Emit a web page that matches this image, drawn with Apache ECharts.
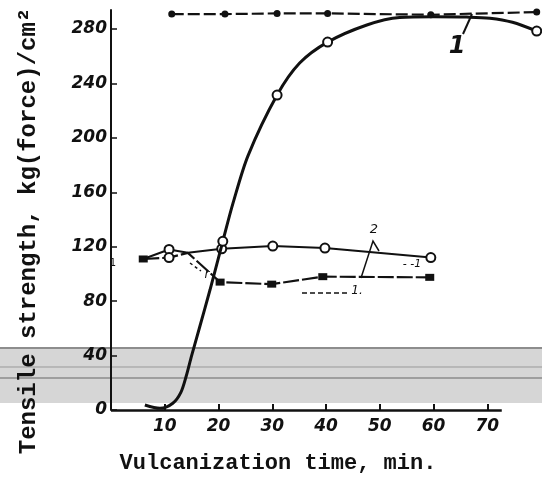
<!DOCTYPE html>
<html><head><meta charset="utf-8">
<script src="https://cdn.jsdelivr.net/npm/echarts@6/dist/echarts.min.js"></script>
<style>html,body{margin:0;padding:0;background:#fff}#c{width:542px;height:481px}</style>
</head><body><div id="c"></div>
<script>
// ---- data ----
// Curve 1: S-shaped rise (open circles)
const curve1Time = [6.3, 9.1, 11.5, 13.0, 14.0, 15.0, 16.5, 18.4, 20.8, 22.7, 25.5, 30.9, 35.1, 40.3, 47.6, 53.7, 60.0, 66.2, 70.5, 74.7, 79.2];
const curve1Strength = [3.7, 1.2, 5, 13, 25, 40, 61, 88, 124, 152, 187, 231.5, 255, 270.4, 283, 288.5, 289, 288.8, 288, 285, 278.5];
const curve1Measured = [20.8, 30.9, 40.3, 79.2];

// Curve 2: open circles around 115-120
const curve2Time = [6.0, 10.8, 14.3, 20.6, 30.1, 39.8, 59.5];
const curve2Strength = [111, 118, 115.5, 118.5, 120.5, 119, 112];

// Curve 3: filled squares around 95
const curve3Time = [6.0, 10.8, 14.3, 20.3, 29.9, 39.4, 59.3];
const curve3Strength = [111, 112, 115.5, 94, 92.5, 98, 97.5];

// Top curve: filled circles near 290 (dashed)
const topTime = [11.3, 21.2, 30.9, 40.3, 59.5, 79.2];
const topStrength = [291, 291, 291.5, 291.5, 290.5, 292.5];

const xTicks = [10, 20, 30, 40, 50, 60, 70];
const yTicks = [0, 40, 80, 120, 160, 200, 240, 280];
const xAxisEnd = 72.7;

// ---- chart ----
const pairs = (xs, ys) => xs.map((x, i) => [x, ys[i]]);
const chart = echarts.init(document.getElementById('c'));
const tickFont = {fontFamily: 'DejaVu Sans', fontWeight: 'bold', fontStyle: 'italic', fontSize: 17, color: '#111'};
const ink = '#111';

chart.setOption({
  backgroundColor: '#fff',
  animation: false,
  grid: {left: 111, right: 1, top: 10, bottom: 71, outerBoundsMode: 'none', containLabel: false},
  xAxis: {
    type: 'value', min: 0, max: 80,
    axisLine: {show: false},
    axisTick: {show: true, inside: true, length: 6, lineStyle: {color: ink, width: 2}, customValues: xTicks},
    axisLabel: Object.assign({margin: 8, customValues: xTicks, formatter: v => String(v)}, tickFont),
    splitLine: {show: false}
  },
  yAxis: {
    type: 'value', min: 0, max: 294,
    axisLine: {show: true, lineStyle: {color: ink, width: 2}},
    axisTick: {show: true, inside: true, length: 6, lineStyle: {color: ink, width: 1.5}, customValues: yTicks},
    axisLabel: Object.assign({margin: 4, customValues: yTicks, formatter: v => String(v)}, tickFont),
    splitLine: {show: false}
  },
  series: [
    {
      type: 'line', name: 'top', z: 3,
      data: pairs(topTime, topStrength),
      symbol: 'circle', symbolSize: 7,
      itemStyle: {color: ink},
      lineStyle: {color: ink, width: 2.2, type: [12, 4]},
      markLine: {
        silent: true, symbol: ['none', 'none'], label: {show: false},
        lineStyle: {color: ink, width: 2.5, type: 'solid'},
        emphasis: {disabled: true},
        data: [[{coord: [0, 0]}, {coord: [xAxisEnd, 0]}]]
      }
    },
    {
      type: 'line', name: '2', z: 3,
      data: pairs(curve2Time, curve2Strength),
      symbol: (v, p) => (p.dataIndex === 0 || p.dataIndex === 2) ? 'none' : 'emptyCircle',
      symbolSize: 9,
      itemStyle: {color: ink, borderWidth: 1.5},
      lineStyle: {color: ink, width: 2}
    },
    {
      type: 'line', name: '3', z: 3,
      data: pairs(curve3Time, curve3Strength),
      symbol: (v, p) => p.dataIndex === 2 ? 'none' : (p.dataIndex === 1 ? 'emptyCircle' : 'rect'),
      symbolSize: (v, p) => p.dataIndex === 1 ? 9 : [9, 7],
      itemStyle: {color: ink, borderWidth: 1.5},
      lineStyle: {color: ink, width: 2.2, type: [16, 3]}
    },
    {
      type: 'line', name: '1', z: 4,
      data: pairs(curve1Time, curve1Strength),
      smooth: 0.3,
      symbol: (v) => curve1Measured.includes(v[0]) ? 'emptyCircle' : 'none',
      symbolSize: 9,
      itemStyle: {color: ink, borderWidth: 1.5},
      lineStyle: {color: ink, width: 3}
    }
  ],
  graphic: [
    // scanning halftone band
    {type: 'rect', z: -10, silent: true, shape: {x: 0, y: 347, width: 542, height: 56}, style: {fill: '#d6d6d6'}},
    {type: 'line', z: -9, silent: true, shape: {x1: 0, y1: 348, x2: 542, y2: 348}, style: {stroke: '#444', lineWidth: 1}},
    {type: 'line', z: -9, silent: true, shape: {x1: 0, y1: 367, x2: 542, y2: 367}, style: {stroke: '#999', lineWidth: 1}},
    {type: 'line', z: -9, silent: true, shape: {x1: 0, y1: 378, x2: 542, y2: 378}, style: {stroke: '#666', lineWidth: 1}},
    // axis titles
    {type: 'text', z: 50, x: 29, y: 231, rotation: Math.PI / 2,
      style: {text: 'Tensile strength, kg(force)/cm²', fontFamily: 'Liberation Mono', fontWeight: 'bold', fontSize: 24, fill: ink, align: 'center', verticalAlign: 'middle'}},
    {type: 'text', z: 50, x: 278, y: 463,
      style: {text: 'Vulcanization time, min.', fontFamily: 'Liberation Mono', fontWeight: 'bold', fontSize: 22, fill: ink, align: 'center', verticalAlign: 'middle'}},
    // curve labels and leaders
    {type: 'line', z: 50, shape: {x1: 472, y1: 14, x2: 463, y2: 34}, style: {stroke: ink, lineWidth: 2}},
    {type: 'text', z: 50, x: 457, y: 47,
      style: {text: '1', fontFamily: 'DejaVu Sans', fontWeight: 'bold', fontStyle: 'italic', fontSize: 24, fill: ink, align: 'center', verticalAlign: 'middle'}},
    {type: 'polyline', z: 50, shape: {points: [[361, 278], [373, 241], [379, 251]]}, style: {stroke: ink, lineWidth: 1.5, fill: null}},
    {type: 'text', z: 50, x: 374, y: 230,
      style: {text: '2', fontFamily: 'DejaVu Sans', fontStyle: 'italic', fontSize: 13, fill: ink, align: 'center', verticalAlign: 'middle'}},
    {type: 'text', z: 50, x: 412, y: 264,
      style: {text: '- -1', fontFamily: 'DejaVu Sans', fontStyle: 'italic', fontSize: 11, fill: ink, align: 'center', verticalAlign: 'middle'}},
    {type: 'line', z: 50, shape: {x1: 302, y1: 293, x2: 350, y2: 293}, style: {stroke: ink, lineWidth: 1.5, lineDash: [5, 3]}},
    {type: 'text', z: 50, x: 357, y: 291,
      style: {text: '1.', fontFamily: 'DejaVu Sans', fontStyle: 'italic', fontSize: 12, fill: ink, align: 'center', verticalAlign: 'middle'}},
    {type: 'line', z: 50, shape: {x1: 190, y1: 263, x2: 201, y2: 271}, style: {stroke: ink, lineWidth: 1.5, lineDash: [3, 3]}},
    {type: 'text', z: 50, x: 207, y: 275,
      style: {text: 'r', fontFamily: 'DejaVu Sans', fontStyle: 'italic', fontSize: 12, fill: ink, align: 'center', verticalAlign: 'middle'}},
    {type: 'text', z: 50, x: 113, y: 263,
      style: {text: '1', fontFamily: 'DejaVu Sans', fontSize: 10, fill: ink, align: 'center', verticalAlign: 'middle'}}
  ]
});
</script>
</body></html>
